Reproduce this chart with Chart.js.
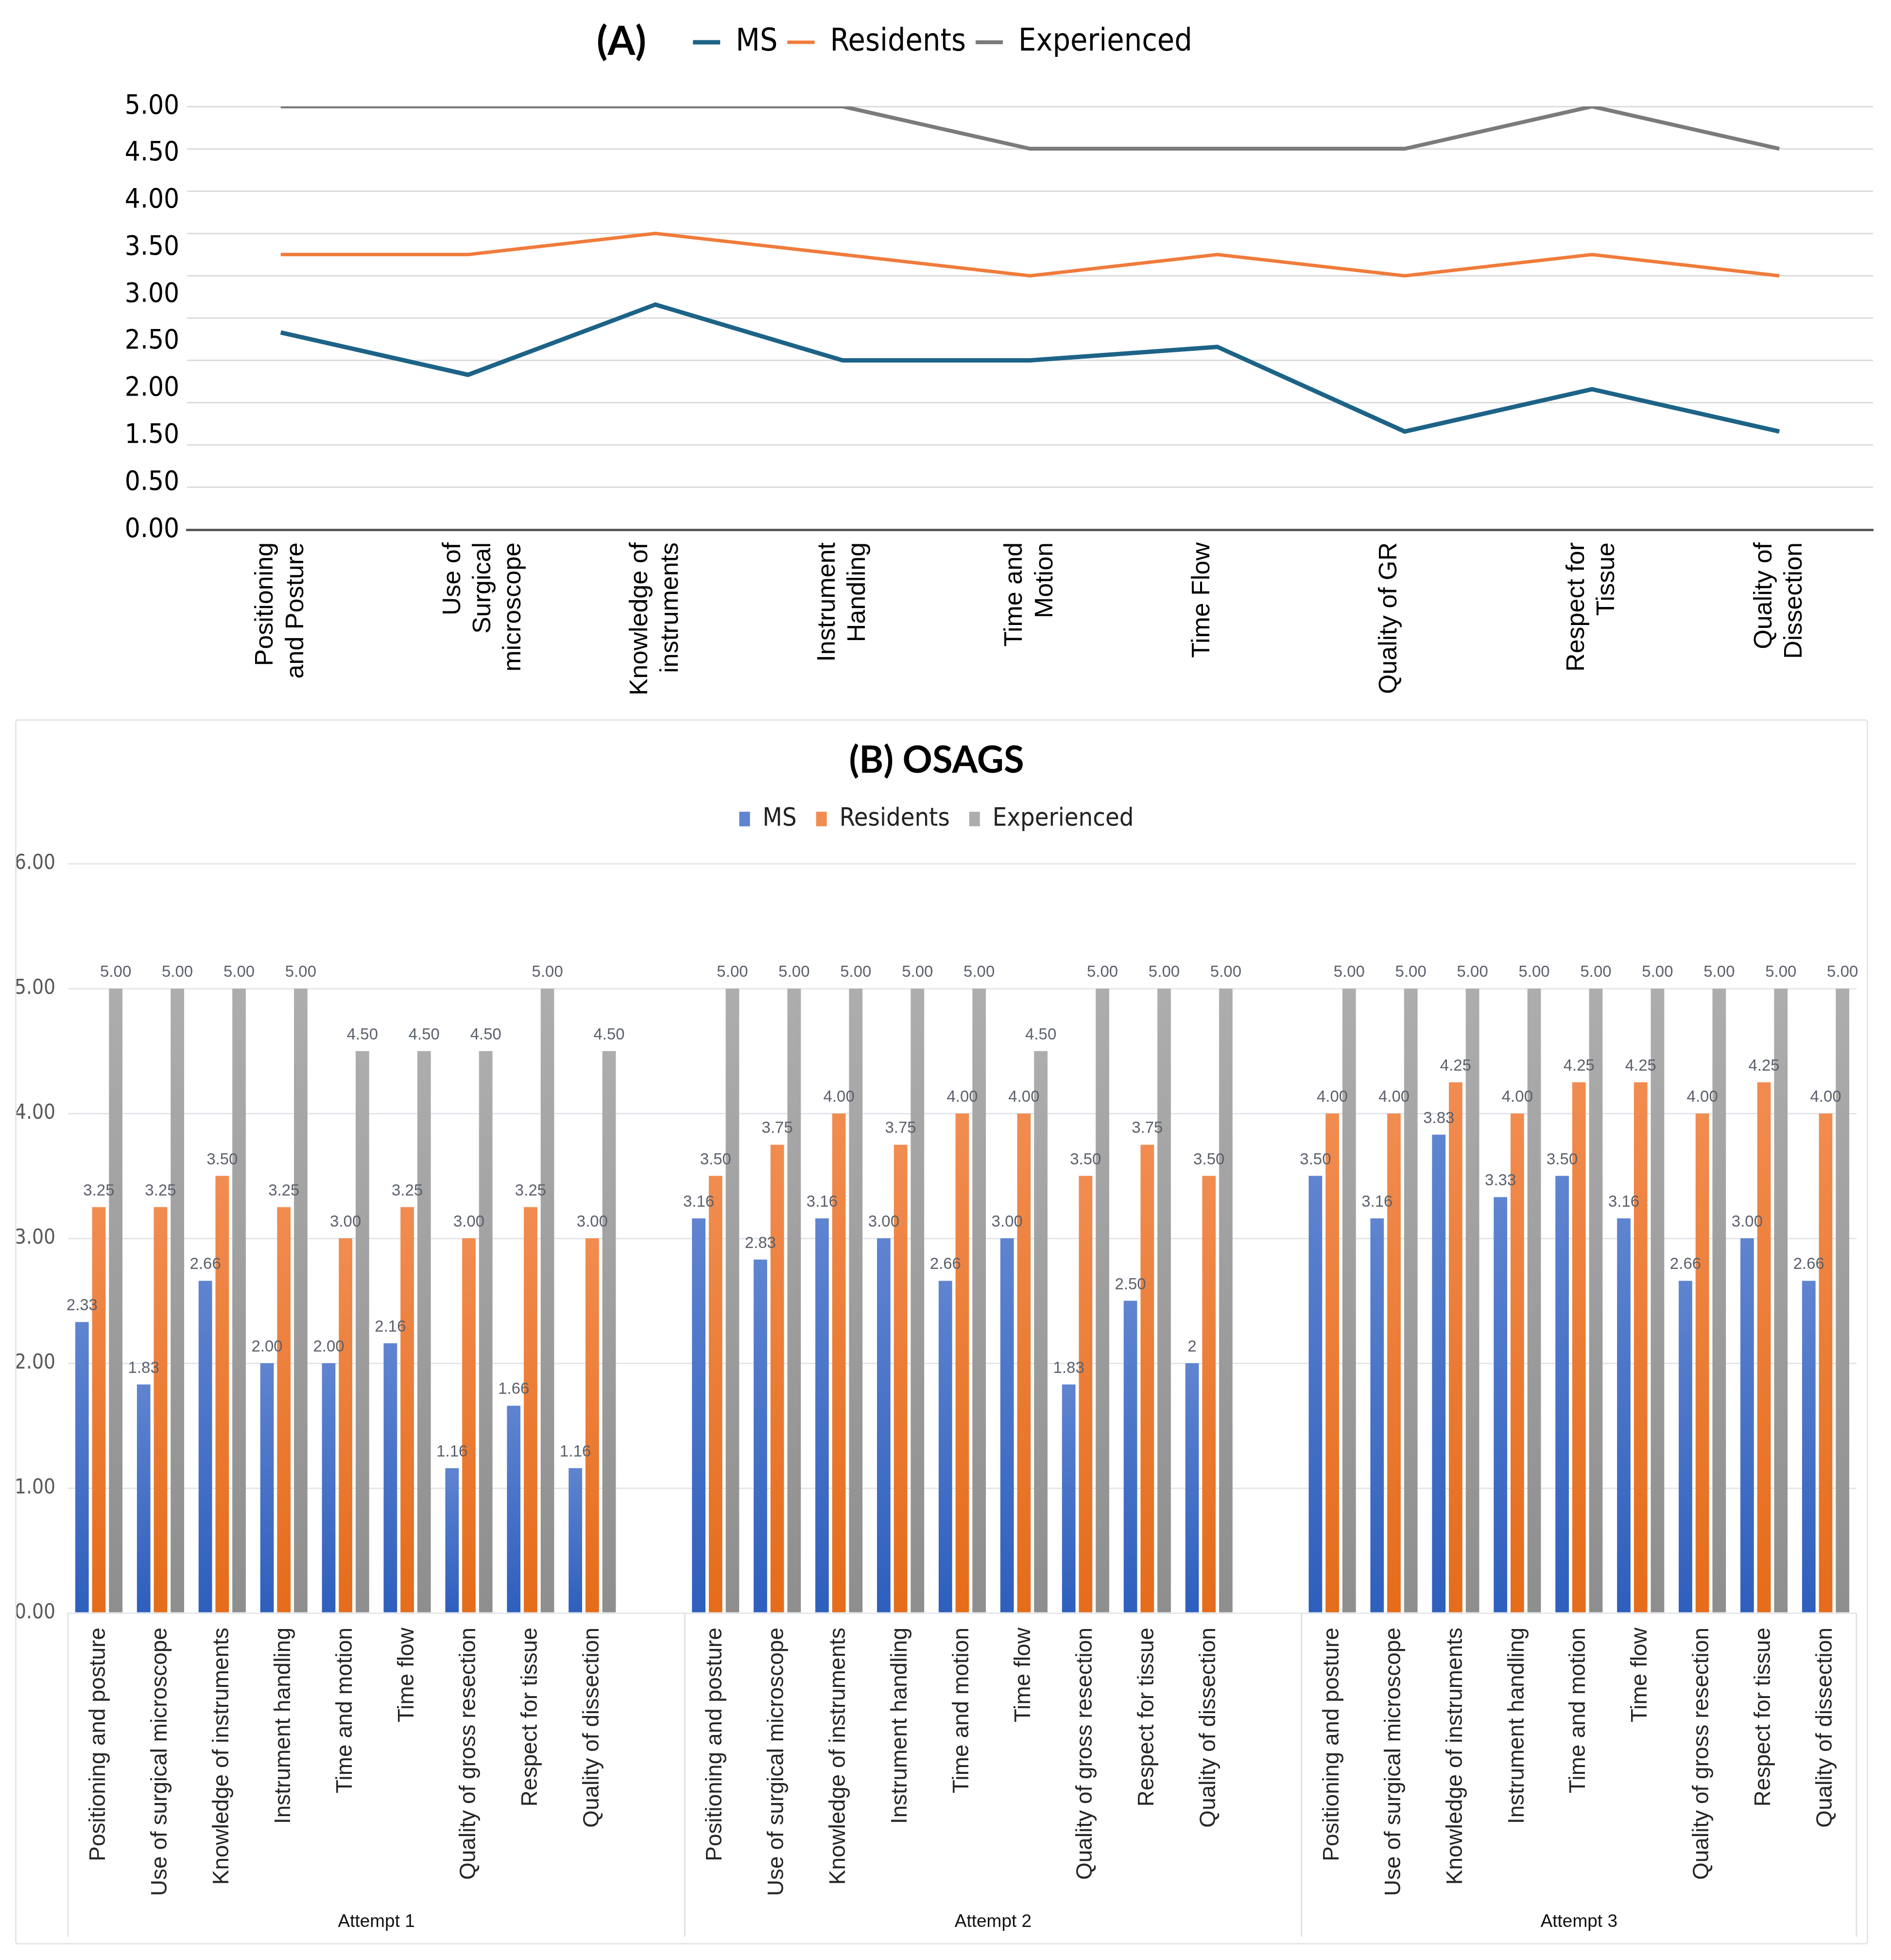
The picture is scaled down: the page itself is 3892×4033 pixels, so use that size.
<!DOCTYPE html>
<html>
<head>
<meta charset="utf-8">
<script src="https://cdn.jsdelivr.net/npm/chart.js@4.4.1/dist/chart.umd.min.js"></script>
<style>
  html, body { margin: 0; padding: 0; background: #fff; }
  body { width: 3892px; height: 4033px; position: relative; overflow: hidden; }
  #boxA { position: absolute; left: 0; top: 0; width: 3892px; height: 1475px; }
  #boxB { position: absolute; left: 31px; top: 1480px; width: 3814px; height: 2521px;
          border: 3px solid #e4e6ea; border-radius: 6px; box-sizing: border-box; }
  canvas { display: block; }
  #tagA { position: absolute; left: 1228px; top: 32px; font: bold 82px Lato, 'Open Sans', sans-serif; color: #000; }
</style>
</head>
<body>
<div id="boxA"><canvas id="chartA" width="3892" height="1475"></canvas></div>
<div id="tagA">(A)</div>
<div id="boxB"><canvas id="chartB" width="3808" height="2515"></canvas></div>
<script>
// (A) line chart, attempt 1 means
const lineCategories = [
  ['Positioning', 'and Posture'], ['Use of', 'Surgical', 'microscope'], ['Knowledge of', 'instruments'],
  ['Instrument', 'Handling'], ['Time and', 'Motion'], 'Time Flow', 'Quality of GR',
  ['Respect for', 'Tissue'], ['Quality of', 'Dissection']
];
const yTickLabelsA = ['5.00', '4.50', '4.00', '3.50', '3.00', '2.50', '2.00', '1.50', '0.50', '0.00'];

// (B) OSAGS bar chart
const attempts = ['Attempt 1', 'Attempt 2', 'Attempt 3'];
const skills = ['Positioning and posture', 'Use of surgical microscope', 'Knowledge of instruments',
  'Instrument handling', 'Time and motion', 'Time flow', 'Quality of gross resection',
  'Respect for tissue', 'Quality of dissection'];

const ms1 = ['2.33', '1.83', '2.66', '2.00', '2.00', '2.16', '1.16', '1.66', '1.16'];
const res1 = ['3.25', '3.25', '3.50', '3.25', '3.00', '3.25', '3.00', '3.25', '3.00'];
const exp1 = ['5.00', '5.00', '5.00', '5.00', '4.50', '4.50', '4.50', '5.00', '4.50'];

const ms2 = ['3.16', '2.83', '3.16', '3.00', '2.66', '3.00', '1.83', '2.50', '2'];
const res2 = ['3.50', '3.75', '4.00', '3.75', '4.00', '4.00', '3.50', '3.75', '3.50'];
const exp2 = ['5.00', '5.00', '5.00', '5.00', '5.00', '4.50', '5.00', '5.00', '5.00'];

const ms3 = ['3.50', '3.16', '3.83', '3.33', '3.50', '3.16', '2.66', '3.00', '2.66'];
const res3 = ['4.00', '4.00', '4.25', '4.00', '4.25', '4.25', '4.00', '4.25', '4.00'];
const exp3 = ['5.00', '5.00', '5.00', '5.00', '5.00', '5.00', '5.00', '5.00', '5.00'];

const yTicksB = [0, 1, 2, 3, 4, 5, 6];

const narrow = "'Liberation Sans Narrow', 'DejaVu Sans Condensed', 'Liberation Sans', sans-serif";
const arial = "'Liberation Sans', Arial, sans-serif";

// flatten the three attempts; an empty slot closes attempts 1 and 2
const barLabels = [], msAll = [], resAll = [], expAll = [], groupStart = [];
[[ms1, res1, exp1], [ms2, res2, exp2], [ms3, res3, exp3]].forEach(([m, r, e], i) => {
  if (i) { barLabels.push(''); msAll.push(null); resAll.push(null); expAll.push(null); }
  groupStart.push(barLabels.length);
  barLabels.push(...skills); msAll.push(...m); resAll.push(...r); expAll.push(...e);
});

new Chart(document.getElementById('chartA'), {
  type: 'line',
  data: {
    labels: lineCategories,
    datasets: [
      { label: 'MS', data: ms1, borderColor: '#1d6387', backgroundColor: '#1d6387', borderWidth: 9 },
      { label: 'Residents', data: res1, borderColor: '#f07b3b', backgroundColor: '#f07b3b', borderWidth: 7 },
      { label: 'Experienced', data: exp1, borderColor: '#7b7b7b', backgroundColor: '#7b7b7b', borderWidth: 8 }
    ]
  },
  options: {
    responsive: false,
    devicePixelRatio: 1,
    animation: false,
    elements: { point: { radius: 0 }, line: { tension: 0 } },
    layout: { padding: { top: 35, left: 25, right: 37, bottom: 0 } },
    plugins: {
      tooltip: { enabled: false },
      title: { display: false },
      // empty spacer between legend and plot
      subtitle: { display: true, text: '', weight: 500, font: { size: 10 }, padding: { top: 0, bottom: 78 } },
      legend: {
        display: true,
        position: 'top',
        labels: { boxHeight: 0, boxWidth: 56, padding: 20, color: '#000', font: { family: narrow, size: 64 } }
      }
    },
    scales: {
      x: {
        offset: true,
        grid: { display: false },
        border: { color: '#595959', width: 5 },
        ticks: { color: '#000', font: { family: arial, size: 52, lineHeight: 1.2 }, labelOffset: -31,
                 minRotation: 90, maxRotation: 90, autoSkip: false, padding: 18 },
        afterFit: s => { s.height = 385; }
      },
      y: {
        min: 0, max: 5,
        weight: 0,
        ticks: { display: false, stepSize: 0.5 },
        grid: { color: '#dcdcdc', lineWidth: 3, drawTicks: false },
        border: { display: false },
        afterFit: s => { s.width = 0; }
      },
      yLab: {
        type: 'category',
        labels: yTickLabelsA,
        position: 'left',
        weight: 1,
        offset: false,
        grid: { display: false },
        border: { display: false },
        ticks: { color: '#000', font: { family: narrow, size: 56 }, autoSkip: false, padding: 8 },
        afterFit: s => { s.width = 360; }
      }
    }
  }
});

function barGradient(top, bottom) {
  return c => {
    const y = c.chart.scales.y;
    if (!y || c.raw == null || c.type !== 'data') return bottom;
    const y1 = y.getPixelForValue(+c.raw), y0 = y.getPixelForValue(0);
    if (!isFinite(y1) || !isFinite(y0) || y1 === y0) return bottom;
    const g = c.chart.ctx.createLinearGradient(0, y1, 0, y0);
    g.addColorStop(0, top);
    g.addColorStop(1, bottom);
    return g;
  };
}

const valueLabels = {
  id: 'valueLabels',
  afterDatasetsDraw(chart) {
    const ctx = chart.ctx;
    ctx.save();
    ctx.font = '33px ' + arial;
    ctx.fillStyle = '#5b606b';
    ctx.textAlign = 'center';
    ctx.textBaseline = 'alphabetic';
    chart.data.datasets.forEach((ds, di) => {
      chart.getDatasetMeta(di).data.forEach((bar, i) => {
        if (ds.data[i] == null) return;
        ctx.fillText(ds.data[i], bar.x, bar.y - 24);
      });
    });
    ctx.restore();
  }
};

// multi-level category axis: separators and attempt names
const attemptGroups = {
  id: 'attemptGroups',
  afterDraw(chart) {
    const { ctx, scales: { x }, chartArea } = chart;
    const step = x.getPixelForValue(1) - x.getPixelForValue(0);
    const edge = i => x.getPixelForValue(i) - step / 2;
    const ends = groupStart.slice(1).concat([barLabels.length]);
    const yBottom = chart.height - 13;
    ctx.save();
    ctx.strokeStyle = '#dfe2e7';
    ctx.lineWidth = 3;
    groupStart.concat([barLabels.length]).forEach(i => {
      ctx.beginPath();
      ctx.moveTo(edge(i), chartArea.bottom);
      ctx.lineTo(edge(i), yBottom);
      ctx.stroke();
    });
    ctx.fillStyle = '#111';
    ctx.font = '37px ' + arial;
    ctx.textAlign = 'center';
    ctx.textBaseline = 'middle';
    attempts.forEach((name, k) => {
      ctx.fillText(name, (edge(groupStart[k]) + edge(ends[k])) / 2, chart.height - 43);
    });
    ctx.restore();
  }
};

new Chart(document.getElementById('chartB'), {
  type: 'bar',
  data: {
    labels: barLabels,
    datasets: [
      { label: 'MS', data: msAll, backgroundColor: barGradient('#5f84d0', '#2e5fbd') },
      { label: 'Residents', data: resAll, backgroundColor: barGradient('#f18c50', '#e56c1a') },
      { label: 'Experienced', data: expAll, backgroundColor: barGradient('#adadad', '#8e8e8e') }
    ]
  },
  plugins: [valueLabels, attemptGroups],
  options: {
    responsive: false,
    devicePixelRatio: 1,
    animation: false,
    datasets: { bar: { categoryPercentage: 0.82, barPercentage: 0.8 } },
    layout: { padding: { top: 0, left: 0, right: 21, bottom: 0 } },
    plugins: {
      tooltip: { enabled: false },
      title: {
        display: true, text: '(B) OSAGS', color: '#000',
        font: { family: "Lato, 'Open Sans', sans-serif", size: 76, weight: 'bold' },
        padding: { top: 37, bottom: 8 }
      },
      // empty spacer between legend and plot
      subtitle: { display: true, text: '', weight: 500, font: { size: 10 }, padding: { top: 0, bottom: 44 } },
      legend: {
        display: true,
        position: 'top',
        labels: { boxWidth: 22, boxHeight: 30, padding: 40, color: '#222', font: { family: narrow, size: 52 } }
      }
    },
    scales: {
      x: {
        grid: { display: false },
        border: { display: false },
        ticks: { color: '#262626', font: { family: arial, size: 46 },
                 minRotation: 90, maxRotation: 90, autoSkip: false, padding: 22 },
        afterFit: s => { s.height = 679; }
      },
      y: {
        min: 0, max: 6,
        afterBuildTicks: s => { s.ticks = yTicksB.map(v => ({ value: v })); },
        ticks: { color: '#595959', font: { family: narrow, size: 42 }, padding: 26,
                 callback: v => v.toFixed(2) },
        grid: { color: '#e3e6eb', lineWidth: 3, drawTicks: false },
        border: { display: false },
        afterFit: s => { s.width = 106; }
      }
    }
  }
});
</script>
</body>
</html>
